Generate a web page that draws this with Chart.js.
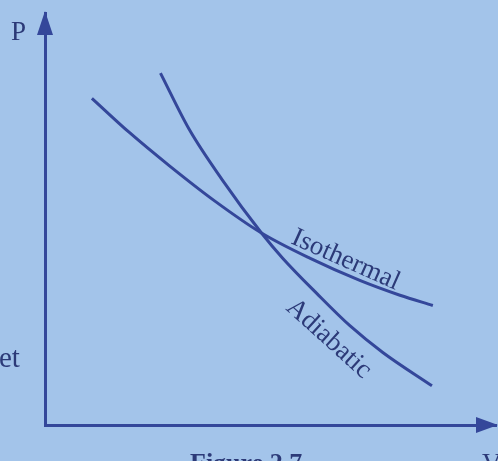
<!DOCTYPE html>
<html>
<head>
<meta charset="utf-8">
<script src="https://cdn.jsdelivr.net/npm/chart.js@4"></script>
<style>
  html, body { margin: 0; padding: 0; background: #a3c4ea; }
  #wrap { width: 498px; height: 461px; position: relative; }
</style>
</head>
<body>
<div id="wrap"><canvas id="chart" width="498" height="461"></canvas></div>
<script>
// volume readings (arbitrary units) and pressure for each curve
const isoV = [1.04, 1.87, 2.76, 3.76, 4.80, 5.87, 6.98, 7.87, 8.60];
const isoP = [7.93, 7.10, 6.29, 5.44, 4.66, 4.05, 3.51, 3.15, 2.90];
const adiaV = [2.56, 3.20, 3.93, 4.80, 5.27, 6.02, 6.76, 7.49, 8.58];
const adiaP = [8.54, 7.17, 5.95, 4.66, 4.05, 3.20, 2.41, 1.76, 0.95];
const axisMax = 10;

const ink = '#34479a';
const textInk = '#2c3a78';

function pts(xs, ys) {
  return xs.map((x, i) => ({ x: x, y: ys[i] }));
}

const decor = {
  id: 'decor',
  beforeDraw(chart) {
    const ctx = chart.ctx;
    ctx.save();
    ctx.fillStyle = '#a3c4ea';
    ctx.fillRect(0, 0, chart.width, chart.height);
    ctx.restore();
  },
  afterDraw(chart) {
    const ctx = chart.ctx;
    const xs = chart.scales.x, ys = chart.scales.y;
    const ox = xs.getPixelForValue(0), oy = ys.getPixelForValue(0);
    const xe = xs.getPixelForValue(axisMax), ye = ys.getPixelForValue(axisMax);
    ctx.save();
    ctx.fillStyle = ink;
    // arrow heads
    ctx.beginPath();
    ctx.moveTo(ox, ye - 2);
    ctx.lineTo(ox - 8, ye + 22);
    ctx.lineTo(ox + 8, ye + 22);
    ctx.closePath();
    ctx.fill();
    ctx.beginPath();
    ctx.moveTo(xe + 2, oy);
    ctx.lineTo(xe - 20, oy - 8);
    ctx.lineTo(xe - 20, oy + 8);
    ctx.closePath();
    ctx.fill();

    ctx.fillStyle = textInk;
    ctx.font = '27px "Liberation Serif", serif';
    ctx.textBaseline = 'alphabetic';
    ctx.fillText('P', 11, 40);
    ctx.fillText('V', 482, 472);
    ctx.font = '29px "Liberation Serif", serif';
    ctx.fillText('et', -1, 367);
    ctx.font = 'bold 26px "Liberation Serif", serif';
    ctx.fillText('Figure 2.7', 190, 471);

    ctx.font = '27px "Liberation Serif", serif';
    ctx.save();
    ctx.translate(290, 243);
    ctx.rotate(24 * Math.PI / 180);
    ctx.fillText('Isothermal', 0, 0);
    ctx.restore();
    ctx.save();
    ctx.translate(285, 309);
    ctx.rotate(42 * Math.PI / 180);
    ctx.fillText('Adiabatic', 0, 0);
    ctx.restore();
    ctx.restore();
  }
};

new Chart(document.getElementById('chart'), {
  type: 'scatter',
  data: {
    datasets: [
      {
        label: 'Isothermal',
        data: pts(isoV, isoP),
        showLine: true,
        borderColor: ink,
        borderWidth: 3,
        pointRadius: 0,
        cubicInterpolationMode: 'monotone'
      },
      {
        label: 'Adiabatic',
        data: pts(adiaV, adiaP),
        showLine: true,
        borderColor: ink,
        borderWidth: 3,
        pointRadius: 0,
        cubicInterpolationMode: 'monotone'
      }
    ]
  },
  options: {
    responsive: false,
    animation: false,
    layout: { padding: { left: 45, right: 2, top: 13, bottom: 36 } },
    plugins: { legend: { display: false }, tooltip: { enabled: false } },
    scales: {
      x: {
        min: 0, max: axisMax,
        grid: { display: false, drawTicks: false },
        ticks: { display: false },
        border: { display: true, color: ink, width: 3 }
      },
      y: {
        min: 0, max: axisMax,
        grid: { display: false, drawTicks: false },
        ticks: { display: false },
        border: { display: true, color: ink, width: 3 }
      }
    }
  },
  plugins: [decor]
});
</script>
</body>
</html>
